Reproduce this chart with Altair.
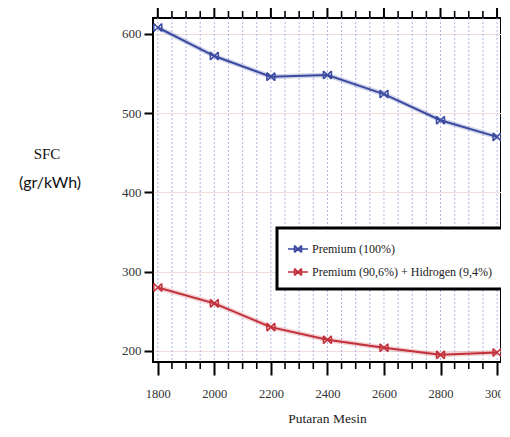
import altair as alt
import pandas as pd

# ---- data ----
rpm = [1800, 2000, 2200, 2400, 2600, 2800, 3000]
premium = [608, 572, 546, 548, 524, 491, 470]
hydrogen = [280, 260, 230, 214, 204, 195, 198]
series_names = ["Premium (100%)", "Premium (90,6%) + Hidrogen (9,4%)"]
series_colors = ["#3a4aa0", "#c2303a"]

x_major = [1800, 2000, 2200, 2400, 2600, 2800, 3000]
x_minor = [1800, 1850, 1900, 1950, 2000, 2050, 2100, 2150, 2200, 2250, 2300,
           2350, 2400, 2450, 2500, 2550, 2600, 2650, 2700, 2750, 2800, 2850,
           2900, 2950, 3000]
y_ticks = [200, 300, 400, 500, 600]

df = pd.DataFrame({
    "rpm": rpm * 2,
    "sfc": premium + hydrogen,
    "series": [series_names[0]] * len(rpm) + [series_names[1]] * len(rpm),
})
grid_df = pd.DataFrame({"rpm": x_minor})
major_df = pd.DataFrame({"rpm": x_major})
minor_only_df = pd.DataFrame({"rpm": [v for v in x_minor if v not in x_major]})

W, H = 348, 344
xs = alt.Scale(domain=[1783, 3014], nice=False, zero=False)
ys = alt.Scale(domain=[186, 620], nice=False, zero=False)
cs = alt.Scale(domain=series_names, range=series_colors)
SERIF = "Liberation Serif"
marker = "M-1,-1L1,1M-1,1L1,-1M-1,-1L-1,1M1,-1L1,1"
legend_sym = ("M-1,0L1,0M-0.35,-0.35L0.35,0.35M-0.35,0.35L0.35,-0.35"
              "M-0.35,-0.35L-0.35,0.35M0.35,-0.35L0.35,0.35")

x_axis = alt.Axis(
    values=x_major, tickSize=13, tickWidth=2, tickColor="black", domain=False, grid=False,
    labelFont=SERIF, labelFontSize=12.5, labelColor="#333", labelPadding=12,
    title="Putaran Mesin", titleFont=SERIF, titleFontSize=13.5, titleFontWeight="normal",
    titleColor="#222", titlePadding=12, format="d")
y_axis = alt.Axis(
    values=y_ticks, tickSize=9, tickWidth=2, tickColor="black", domain=False,
    grid=True, gridColor="#f1dcdc", gridWidth=1,
    labelFont=SERIF, labelFontSize=13, labelColor="#333", labelPadding=3, title=None)
legend = alt.Legend(title=None)

X = alt.X("rpm:Q", scale=xs, axis=x_axis)
Y = alt.Y("sfc:Q", scale=ys, axis=y_axis)
C = alt.Color("series:N", scale=cs, sort=series_names, legend=legend)

vgrid = alt.Chart(grid_df).mark_rule(color="#b4b4e4", strokeWidth=1, strokeDash=[2, 2]).encode(x=X)

base = alt.Chart(df)
glow = base.mark_line(strokeWidth=5, opacity=0.22).encode(x=X, y=Y, color=C)
line = base.mark_line(strokeWidth=2).encode(x=X, y=Y, color=C)
pts = base.mark_point(shape=marker, size=64, filled=False, strokeWidth=1.5, opacity=1).encode(
    x=X, y=Y, color=C)

top_major = alt.Chart(major_df).mark_rule(color="black", strokeWidth=2).encode(
    x=X, y=alt.value(-13), y2=alt.value(0))
top_minor = alt.Chart(minor_only_df).mark_rule(color="black", strokeWidth=1.6).encode(
    x=X, y=alt.value(-7), y2=alt.value(0))
bot_minor = alt.Chart(minor_only_df).mark_rule(color="black", strokeWidth=1.6).encode(
    x=X, y=alt.value(H), y2=alt.value(H + 7))

sfc_t = alt.Chart(pd.DataFrame({"t": ["SFC"]})).mark_text(
    font=SERIF, fontSize=15, color="#111").encode(
    x=alt.value(-106), y=alt.value(136), text="t:N")
unit_t = alt.Chart(pd.DataFrame({"t": ["(gr/kWh)"]})).mark_text(
    font="Lato", fontSize=16, color="#111").encode(
    x=alt.value(-103), y=alt.value(165), text="t:N")

chart = alt.layer(vgrid, glow, line, pts, top_major, top_minor, bot_minor, sfc_t, unit_t).properties(
    width=W, height=H,
    autosize=alt.AutoSizeParams(type="none"),
    padding={"left": 145, "top": 10, "right": 0, "bottom": 72},
).configure_view(
    stroke="black", strokeWidth=2
).configure_legend(
    orient="none", legendX=124, legendY=210,
    strokeColor="black", strokeWidth=3, fillColor="white", padding=10,
    labelFont=SERIF, labelFontSize=12, labelColor="#222", labelLimit=400, labelOffset=3,
    symbolType=legend_sym, symbolSize=400, symbolStrokeWidth=1.6, symbolOpacity=1,
    symbolFillColor="transparent", rowPadding=5,
)

chart.save("out.html", embed_options={"renderer": "svg", "actions": False})
